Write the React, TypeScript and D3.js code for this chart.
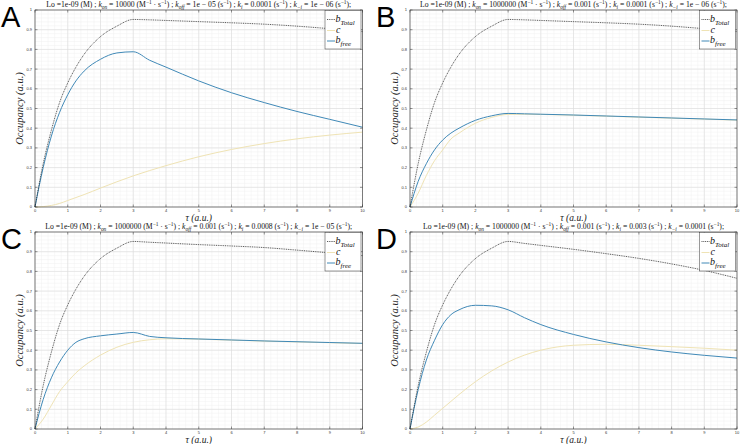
import React from 'react';
import * as d3 from 'd3';

const T = [0, 0.25, 0.5, 0.75, 1, 1.25, 1.5, 2, 2.5, 3, 3.5, 4, 5, 6, 7, 8, 9, 10];

const bTotalA = [0, 0.22, 0.39, 0.53, 0.63, 0.71, 0.775, 0.865, 0.918, 0.952, 0.95, 0.947, 0.941, 0.935, 0.928, 0.918, 0.905, 0.89];
const cA = [0, 0.002, 0.008, 0.018, 0.033, 0.048, 0.063, 0.096, 0.128, 0.158, 0.185, 0.21, 0.255, 0.292, 0.322, 0.346, 0.365, 0.38];
const bFreeA = [0, 0.2, 0.36, 0.48, 0.57, 0.64, 0.69, 0.75, 0.782, 0.788, 0.745, 0.71, 0.64, 0.58, 0.53, 0.485, 0.445, 0.405];

const bTotalB = [0, 0.22, 0.39, 0.53, 0.63, 0.71, 0.775, 0.865, 0.918, 0.952, 0.95, 0.947, 0.941, 0.935, 0.928, 0.918, 0.905, 0.89];
const cB = [0, 0.07, 0.16, 0.235, 0.29, 0.345, 0.375, 0.425, 0.455, 0.47, 0.471, 0.47, 0.466, 0.461, 0.456, 0.451, 0.446, 0.441];
const bFreeB = [0, 0.13, 0.22, 0.29, 0.34, 0.375, 0.4, 0.44, 0.463, 0.475, 0.473, 0.471, 0.467, 0.462, 0.457, 0.452, 0.447, 0.442];

const bTotalC = [0, 0.22, 0.39, 0.53, 0.63, 0.71, 0.775, 0.865, 0.918, 0.952, 0.948, 0.944, 0.936, 0.929, 0.921, 0.908, 0.894, 0.88];
const cC = [0, 0.05, 0.12, 0.19, 0.24, 0.285, 0.32, 0.375, 0.415, 0.44, 0.453, 0.458, 0.456, 0.451, 0.446, 0.442, 0.438, 0.434];
const bFreeC = [0, 0.15, 0.26, 0.34, 0.4, 0.44, 0.458, 0.473, 0.482, 0.49, 0.47, 0.463, 0.457, 0.452, 0.447, 0.443, 0.439, 0.435];

const bTotalD = [0, 0.22, 0.39, 0.53, 0.63, 0.71, 0.775, 0.865, 0.918, 0.952, 0.942, 0.932, 0.912, 0.89, 0.866, 0.838, 0.805, 0.765];
const cD = [0, 0.01, 0.035, 0.07, 0.105, 0.14, 0.175, 0.24, 0.295, 0.34, 0.375, 0.4, 0.425, 0.43, 0.425, 0.418, 0.41, 0.4];
const bFreeD = [0, 0.2, 0.35, 0.45, 0.53, 0.58, 0.605, 0.628, 0.625, 0.605, 0.565, 0.53, 0.48, 0.442, 0.413, 0.391, 0.374, 0.36];

const xTicks = [0, 1, 2, 3, 4, 5, 6, 7, 8, 9, 10];
const yTicks = [0, 0.1, 0.2, 0.3, 0.4, 0.5, 0.6, 0.7, 0.8, 0.9, 1];
const yTickLabels = ['0', '0.1', '0.2', '0.3', '0.4', '0.5', '0.6', '0.7', '0.8', '0.9', '1'];

const panelLetters = ['A', 'B', 'C', 'D'];
const konValues = ['10000', '1000000', '1000000', '1000000'];
const koffValues = ['1e − 05', '0.001', '0.001', '0.001'];
const kiValues = ['0.0001', '0.0001', '0.0008', '0.003'];
const kmiValues = ['1e − 06', '1e − 06', '1e − 05', '0.0001'];

const seriesData = [
  [bTotalA, cA, bFreeA],
  [bTotalB, cB, bFreeB],
  [bTotalC, cC, bFreeC],
  [bTotalD, cD, bFreeD],
];

const layout = [
  { x0: 35, x1: 362.5, y0: 10, y1: 207, lx: 0, ly: 0 },
  { x0: 410, x1: 737, y0: 10, y1: 207, lx: 375, ly: 0 },
  { x0: 35, x1: 362.5, y0: 232, y1: 429, lx: 0, ly: 222 },
  { x0: 410, x1: 737, y0: 232, y1: 429, lx: 375, ly: 222 },
];

const SERIF = "'Liberation Serif', 'DejaVu Serif', serif";
const SANS = "'Liberation Sans', Arial, sans-serif";

type Seg = [string, 'n' | 'i' | 'sub' | 'sup' | 'isub'];

function Rich({ segs, fs }: { segs: Seg[]; fs: number }) {
  let cur = 0;
  return (
    <>
      {segs.map((s, i) => {
        const kind = s[1];
        const target = kind === 'sub' || kind === 'isub' ? fs * 0.3 : kind === 'sup' ? -fs * 0.4 : 0;
        const dy = target - cur;
        cur = target;
        const small = kind === 'sub' || kind === 'sup' || kind === 'isub';
        return (
          <tspan
            key={i}
            dy={dy}
            fontSize={small ? fs * 0.7 : fs}
            fontStyle={kind === 'i' || kind === 'isub' ? 'italic' : 'normal'}
          >
            {s[0]}
          </tspan>
        );
      })}
    </>
  );
}

function titleSegs(p: number): Seg[] {
  return [
    ['Lo =1e-09 (M) ; ', 'n'],
    ['k', 'i'],
    ['on', 'isub'],
    ['  = ' + konValues[p] + ' (M', 'n'],
    ['−1', 'sup'],
    [' · s', 'n'],
    ['−1', 'sup'],
    [') ; ', 'n'],
    ['k', 'i'],
    ['off', 'isub'],
    ['  =  ' + koffValues[p] + ' (s', 'n'],
    ['−1', 'sup'],
    [') ; ', 'n'],
    ['k', 'i'],
    ['i', 'isub'],
    ['  =  ' + kiValues[p] + ' (s', 'n'],
    ['−1', 'sup'],
    [') ; ', 'n'],
    ['k', 'i'],
    ['−i', 'isub'],
    ['  =  ' + kmiValues[p] + ' (s', 'n'],
    ['−1', 'sup'],
    [');', 'n'],
  ];
}

const COLORS = ['#111111', '#efe3b4', '#4089b7'];

function Panel({ p }: { p: number }) {
  const L = layout[p];
  const x = d3.scaleLinear().domain([0, 10]).range([L.x0, L.x1]);
  const y = d3.scaleLinear().domain([0, 1]).range([L.y1, L.y0]);
  const line = d3
    .line<number>()
    .x((_, i) => x(T[i]))
    .y((d) => y(d))
    .curve(d3.curveMonotoneX);
  const xMinor = d3.range(0, 10.001, 0.2);
  const yMinor = d3.range(0, 1.0001, 0.02);
  const [bt, c, bf] = seriesData[p];
  const cx = (L.x0 + L.x1) / 2;
  const legX0 = L.x1 - 37.5;
  const legY0 = L.y0 + 0.5;
  return (
    <g>
      <rect x={L.x0} y={L.y0} width={L.x1 - L.x0} height={L.y1 - L.y0} fill="#ffffff" />
      {xMinor.map((v, i) => (
        <line key={'xm' + i} x1={x(v)} x2={x(v)} y1={L.y0} y2={L.y1} stroke="#f1f1f1" strokeWidth={0.5} />
      ))}
      {yMinor.map((v, i) => (
        <line key={'ym' + i} x1={L.x0} x2={L.x1} y1={y(v)} y2={y(v)} stroke="#f1f1f1" strokeWidth={0.5} />
      ))}
      {xTicks.map((v) => (
        <line key={'xg' + v} x1={x(v)} x2={x(v)} y1={L.y0} y2={L.y1} stroke="#dcdcdc" strokeWidth={0.6} />
      ))}
      {yTicks.map((v) => (
        <line key={'yg' + v} x1={L.x0} x2={L.x1} y1={y(v)} y2={y(v)} stroke="#dcdcdc" strokeWidth={0.6} />
      ))}
      <path d={line(c) || ''} fill="none" stroke={COLORS[1]} strokeWidth={1} />
      <path d={line(bf) || ''} fill="none" stroke={COLORS[2]} strokeWidth={1} />
      <path d={line(bt) || ''} fill="none" stroke={COLORS[0]} strokeWidth={0.7} strokeDasharray="1 0.8" />
      <rect x={L.x0} y={L.y0} width={L.x1 - L.x0} height={L.y1 - L.y0} fill="none" stroke="#333333" strokeWidth={0.6} />
      {xTicks.map((v) => (
        <g key={'xt' + v}>
          <line x1={x(v)} x2={x(v)} y1={L.y1} y2={L.y1 - 2.5} stroke="#333" strokeWidth={0.5} />
          <line x1={x(v)} x2={x(v)} y1={L.y0} y2={L.y0 + 2.5} stroke="#333" strokeWidth={0.5} />
          <text x={x(v)} y={L.y1 + 4.6} fontSize={4} fontFamily={SANS} textAnchor="middle" fill="#333">
            {v}
          </text>
        </g>
      ))}
      {yTicks.map((v, i) => (
        <g key={'yt' + v}>
          <line x1={L.x0} x2={L.x0 + 2.5} y1={y(v)} y2={y(v)} stroke="#333" strokeWidth={0.5} />
          <line x1={L.x1} x2={L.x1 - 2.5} y1={y(v)} y2={y(v)} stroke="#333" strokeWidth={0.5} />
          <text x={L.x0 - 3} y={y(v) + 1.4} fontSize={4} fontFamily={SANS} textAnchor="end" fill="#333">
            {yTickLabels[i]}
          </text>
        </g>
      ))}
      <text x={cx} y={L.y0 - 3} fontSize={7.7} fontFamily={SERIF} textAnchor="middle" fill="#111">
        <Rich segs={titleSegs(p)} fs={7.7} />
      </text>
      <text
        transform={`translate(${L.x0 - 12},${(L.y0 + L.y1) / 2}) rotate(-90)`}
        fontSize={10.5}
        fontFamily={SERIF}
        fontStyle="italic"
        textAnchor="middle"
        fill="#222"
      >
        Occupancy (a.u.)
      </text>
      <text x={cx} y={L.y1 + 13.5} fontSize={9.5} fontFamily={SERIF} fontStyle="italic" textAnchor="middle" fill="#222">
        τ (a.u.)
      </text>
      <text x={L.lx + 1} y={L.ly + 27} fontSize={29} fontFamily={SANS} fill="#000">
        {panelLetters[p]}
      </text>
      <rect x={legX0} y={legY0} width={36} height={38.5} fill="#ffffff" stroke="#333" strokeWidth={0.5} />
      <line x1={legX0 + 2} x2={legX0 + 10} y1={legY0 + 9} y2={legY0 + 9} stroke={COLORS[0]} strokeWidth={0.7} strokeDasharray="1 0.8" />
      <line x1={legX0 + 2} x2={legX0 + 10} y1={legY0 + 20} y2={legY0 + 20} stroke={COLORS[1]} strokeWidth={1} />
      <line x1={legX0 + 2} x2={legX0 + 10} y1={legY0 + 30.5} y2={legY0 + 30.5} stroke={COLORS[2]} strokeWidth={1} />
      <text x={legX0 + 10.5} y={legY0 + 11} fontSize={10} fontFamily={SERIF} fill="#111">
        <Rich segs={[['b', 'i'], ['Total', 'isub']]} fs={10} />
      </text>
      <text x={legX0 + 11} y={legY0 + 22.5} fontSize={10} fontFamily={SERIF} fontStyle="italic" fill="#111">
        c
      </text>
      <text x={legX0 + 10.5} y={legY0 + 32} fontSize={10} fontFamily={SERIF} fill="#111">
        <Rich segs={[['b', 'i'], ['free', 'isub']]} fs={10} />
      </text>
    </g>
  );
}

export default function App() {
  return (
    <svg
      width={740}
      height={444}
      viewBox="0 0 740 444"
      style={{ position: 'absolute', left: 0, top: 0, background: '#ffffff' }}
    >
      <rect x={0} y={0} width={740} height={444} fill="#ffffff" />
      {[0, 1, 2, 3].map((p) => (
        <Panel key={p} p={p} />
      ))}
    </svg>
  );
}
